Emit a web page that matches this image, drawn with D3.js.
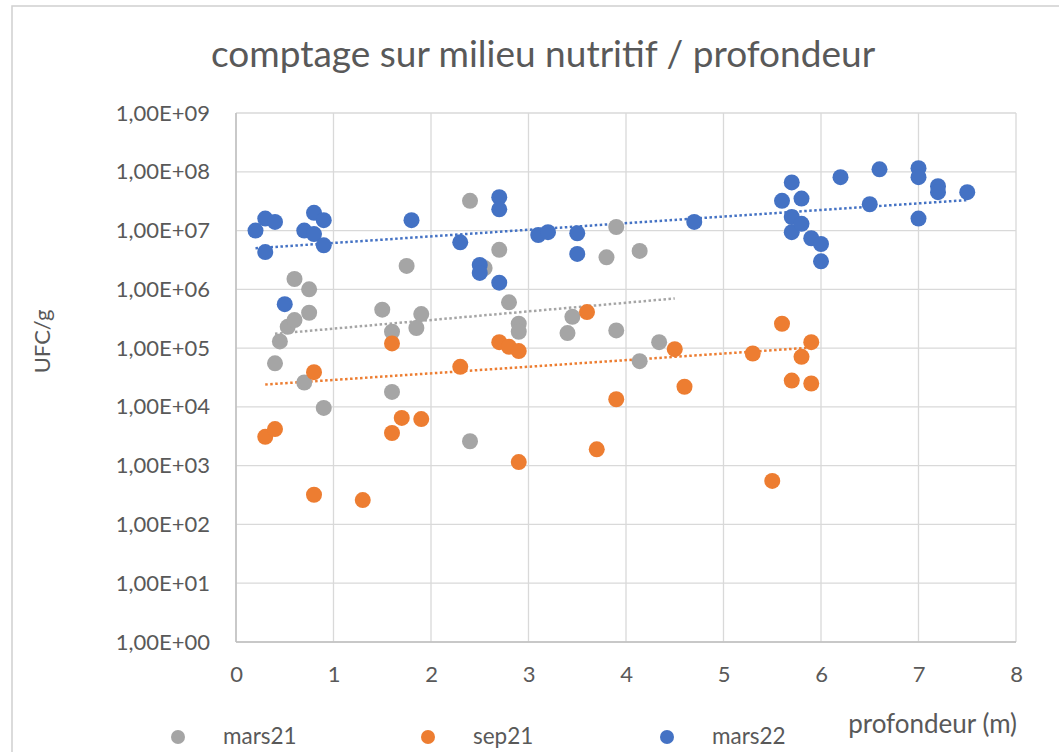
<!DOCTYPE html>
<html>
<meta charset="utf-8">
<title>comptage sur milieu nutritif / profondeur</title>
<script src="https://d3js.org/d3.v7.min.js"></script>
<style>
body { margin: 0; background: #fff; }
text { font-family: Lato, "Open Sans", sans-serif; fill: #595959; }
.grid line { stroke: #d9d9d9; stroke-width: 1.3; }
.axis path { display: none; }
.axis line { display: none; }
.axis text { font-size: 22px; }
</style>
<body>
<svg width="1059" height="752"></svg>
<script>
// profondeur (m) / UFC par gramme
var mars21X = [0.4, 0.45, 0.53, 0.6, 0.6, 0.7, 0.75, 0.75, 0.9, 1.5, 1.6, 1.6, 1.75, 1.85, 1.9,
  2.4, 2.4, 2.55, 2.7, 2.8, 2.9, 2.9, 3.4, 3.45, 3.8, 3.9, 3.9, 4.14, 4.14, 4.34];
var mars21Y = [5.5e4, 1.3e5, 2.3e5, 1.5e6, 3.0e5, 2.6e4, 1.0e6, 4.0e5, 9.6e3, 4.5e5, 1.9e5, 1.8e4, 2.5e6, 2.2e5, 3.8e5,
  3.2e7, 2.6e3, 2.3e6, 4.7e6, 6.0e5, 2.6e5, 1.9e5, 1.8e5, 3.4e5, 3.5e6, 1.15e7, 2.0e5, 4.5e6, 6.0e4, 1.26e5];

var sep21X = [0.3, 0.4, 0.8, 0.8, 1.3, 1.6, 1.6, 1.7, 1.9, 2.3, 2.7, 2.8, 2.9, 2.9, 3.6, 3.7, 3.9,
  4.5, 4.6, 5.3, 5.5, 5.6, 5.7, 5.8, 5.9, 5.9];
var sep21Y = [3.1e3, 4.2e3, 3.9e4, 3.2e2, 2.6e2, 1.2e5, 3.6e3, 6.5e3, 6.2e3, 4.8e4, 1.26e5, 1.05e5, 8.9e4, 1.15e3, 4.1e5, 1.9e3, 1.35e4,
  9.6e4, 2.2e4, 8.1e4, 5.5e2, 2.6e5, 2.8e4, 7.1e4, 1.26e5, 2.5e4];

var mars22X = [0.2, 0.3, 0.3, 0.4, 0.5, 0.7, 0.8, 0.8, 0.9, 0.9, 1.8, 2.3, 2.5, 2.5, 2.7, 2.7, 2.7,
  3.1, 3.2, 3.5, 3.5, 4.7, 5.6, 5.7, 5.7, 5.7, 5.8, 5.8, 5.9, 6.0, 6.0, 6.2, 6.5, 6.6, 7.0, 7.0, 7.0, 7.2, 7.2, 7.5];
var mars22Y = [1.0e7, 1.6e7, 4.3e6, 1.4e7, 5.6e5, 1.0e7, 2.0e7, 8.7e6, 1.5e7, 5.6e6, 1.5e7, 6.3e6, 2.6e6, 1.9e6, 3.7e7, 2.3e7, 1.3e6,
  8.4e6, 9.4e6, 9.0e6, 4.0e6, 1.4e7, 3.2e7, 6.6e7, 1.7e7, 9.4e6, 3.5e7, 1.3e7, 7.4e6, 5.9e6, 3.0e6, 8.1e7, 2.8e7, 1.1e8, 1.15e8, 8.1e7, 1.6e7, 5.7e7, 4.5e7, 4.5e7];

// courbes de tendance (extrémités)
var trendX = [[0.4, 4.5], [0.3, 5.9], [0.2, 7.5]];
var trendY = [[1.75e5, 7.0e5], [2.4e4, 1.02e5], [5.0e6, 3.3e7]];

var seriesNames = ["mars21", "sep21", "mars22"];
var seriesColors = ["#a5a5a5", "#ed7d31", "#4472c4"];

var xTicks = [0, 1, 2, 3, 4, 5, 6, 7, 8];
var yTicks = [1e0, 1e1, 1e2, 1e3, 1e4, 1e5, 1e6, 1e7, 1e8, 1e9];
var yTickLabels = ["1,00E+00", "1,00E+01", "1,00E+02", "1,00E+03", "1,00E+04",
  "1,00E+05", "1,00E+06", "1,00E+07", "1,00E+08", "1,00E+09"];

var svg = d3.select("svg");
var plot = { left: 236, right: 1016, top: 113, bottom: 642 };

var x = d3.scaleLinear().domain([0, 8]).range([plot.left, plot.right]);
var y = d3.scaleLog().domain([1, 1e9]).range([plot.bottom, plot.top]);

// cadre du graphique
svg.append("rect")
  .attr("x", 12).attr("y", 6)
  .attr("width", 1100).attr("height", 800)
  .attr("fill", "#fff")
  .attr("stroke", "#d0d0d0")
  .attr("stroke-width", 1.5);

svg.append("text")
  .attr("x", 543).attr("y", 67)
  .attr("text-anchor", "middle")
  .style("font-size", "37px")
  .text("comptage sur milieu nutritif / profondeur");

var grid = svg.append("g").attr("class", "grid");
grid.selectAll(".h").data(yTicks).enter().append("line")
  .attr("x1", plot.left).attr("x2", plot.right)
  .attr("y1", function(d) { return y(d); })
  .attr("y2", function(d) { return y(d); });
grid.selectAll(".v").data(xTicks).enter().append("line")
  .attr("y1", plot.top).attr("y2", plot.bottom)
  .attr("x1", function(d) { return x(d); })
  .attr("x2", function(d) { return x(d); });

// axes
svg.append("line")
  .attr("x1", plot.left).attr("x2", plot.right)
  .attr("y1", plot.bottom).attr("y2", plot.bottom)
  .attr("stroke", "#bfbfbf").attr("stroke-width", 1.5);
svg.append("line")
  .attr("x1", plot.left).attr("x2", plot.left)
  .attr("y1", plot.top).attr("y2", plot.bottom)
  .attr("stroke", "#bfbfbf").attr("stroke-width", 1.5);

svg.append("g")
  .attr("class", "axis")
  .attr("transform", "translate(" + plot.left + ",0)")
  .call(d3.axisLeft(y).tickValues(yTicks).tickSize(0).tickPadding(26)
    .tickFormat(function(d, i) { return yTickLabels[i]; }));

svg.append("g")
  .attr("class", "axis")
  .attr("transform", "translate(0," + plot.bottom + ")")
  .call(d3.axisBottom(x).tickValues(xTicks).tickSize(0).tickPadding(24)
    .tickFormat(d3.format("d")));

svg.selectAll(".axis text").attr("fill", "#595959");

svg.append("text")
  .attr("transform", "translate(50," + ((plot.top + plot.bottom) / 2 - 36) + ") rotate(-90)")
  .attr("text-anchor", "middle")
  .style("font-size", "22px")
  .text("UFC/g");

svg.append("text")
  .attr("x", 1017).attr("y", 733)
  .attr("text-anchor", "end")
  .style("font-size", "26px")
  .text("profondeur (m)");

// tendances
var line = d3.line()
  .x(function(d) { return x(d[0]); })
  .y(function(d) { return y(d[1]); });
trendX.forEach(function(tx, i) {
  svg.append("path")
    .datum(d3.zip(tx, trendY[i]))
    .attr("d", line)
    .attr("fill", "none")
    .attr("stroke", seriesColors[i])
    .attr("stroke-width", 2.5)
    .attr("stroke-dasharray", "2.5,2.5");
});

// points
var allX = [mars21X, sep21X, mars22X];
var allY = [mars21Y, sep21Y, mars22Y];
allX.forEach(function(xs, i) {
  svg.append("g").selectAll("circle")
    .data(d3.zip(xs, allY[i]))
    .enter().append("circle")
    .attr("cx", function(d) { return x(d[0]); })
    .attr("cy", function(d) { return y(d[1]); })
    .attr("r", 8)
    .attr("fill", seriesColors[i]);
});

// légende
var legendX = [178, 428, 667];
var legend = svg.selectAll(".legend").data(seriesNames).enter().append("g")
  .attr("transform", function(d, i) { return "translate(" + legendX[i] + ",737)"; });
legend.append("circle").attr("r", 7).attr("fill", function(d, i) { return seriesColors[i]; });
legend.append("text")
  .attr("x", 45).attr("y", 7)
  .style("font-size", "22.5px")
  .text(function(d) { return d; });
</script>
</body>
</html>
